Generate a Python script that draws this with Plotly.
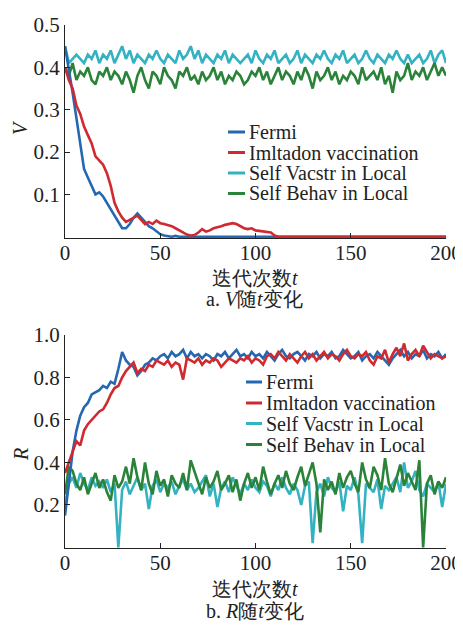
import plotly.graph_objects as go

# ---------------- data ----------------
t_even = list(range(0, 201, 2))

# Panel a: V vs t
V_fermi_t = list(range(0, 61, 2)) + [200]
V_fermi = [0.45, 0.40, 0.34, 0.28, 0.22, 0.16, 0.14, 0.12, 0.10, 0.105,
           0.095, 0.08, 0.065, 0.05, 0.035, 0.02, 0.02, 0.03, 0.045, 0.055,
           0.045, 0.035, 0.025, 0.02, 0.012, 0.006, 0.003, 0.001, 0.0, 0.002,
           0.0, 0.0]

V_imit_t = list(range(0, 113, 2)) + [200]
V_imit = [0.40, 0.37, 0.35, 0.31, 0.29, 0.26, 0.24, 0.22, 0.19, 0.18,
          0.17, 0.15, 0.12, 0.08, 0.06, 0.045, 0.035, 0.04, 0.045, 0.05,
          0.04, 0.03, 0.035, 0.03, 0.038, 0.032, 0.03, 0.028, 0.025, 0.02,
          0.015, 0.01, 0.005, 0.003, 0.004, 0.01, 0.018, 0.012, 0.015, 0.02,
          0.022, 0.025, 0.028, 0.03, 0.032, 0.03, 0.025, 0.02, 0.018, 0.02,
          0.015, 0.014, 0.013, 0.012, 0.01, 0.003, 0.0, 0.0]

V_vacstr = [0.45, 0.41, 0.42, 0.43, 0.42, 0.41, 0.43, 0.42, 0.44, 0.41,
            0.43, 0.42, 0.44, 0.41, 0.43, 0.45, 0.42, 0.44, 0.41, 0.43,
            0.42, 0.41, 0.43, 0.42, 0.44, 0.42, 0.41, 0.43, 0.42, 0.41,
            0.44, 0.42, 0.43, 0.45, 0.42, 0.44, 0.41, 0.43, 0.42, 0.41,
            0.43, 0.42, 0.44, 0.41, 0.43, 0.42, 0.41, 0.42, 0.43, 0.41,
            0.44, 0.42, 0.41, 0.43, 0.42, 0.44, 0.41, 0.42, 0.43, 0.41,
            0.42, 0.44, 0.41, 0.43, 0.42, 0.41, 0.43, 0.42, 0.44, 0.42,
            0.41, 0.43, 0.42, 0.44, 0.41, 0.42, 0.43, 0.41, 0.42, 0.44,
            0.42, 0.41, 0.43, 0.42, 0.41, 0.43, 0.42, 0.44, 0.42, 0.41,
            0.43, 0.41, 0.42, 0.43, 0.41, 0.42, 0.44, 0.41, 0.43, 0.44,
            0.41]

V_behav = [0.40, 0.38, 0.41, 0.37, 0.39, 0.38, 0.40, 0.37, 0.36, 0.39,
           0.38, 0.40, 0.37, 0.39, 0.38, 0.36, 0.39, 0.37, 0.34, 0.38,
           0.40, 0.37, 0.35, 0.39, 0.38, 0.36, 0.40, 0.38, 0.37, 0.35,
           0.39, 0.38, 0.40, 0.37, 0.38, 0.36, 0.39, 0.37, 0.38, 0.40,
           0.37, 0.39, 0.36, 0.38, 0.37, 0.39, 0.38, 0.36, 0.37, 0.39,
           0.38, 0.40, 0.37, 0.39, 0.36, 0.38, 0.40, 0.37, 0.39, 0.38,
           0.36, 0.39, 0.37, 0.40, 0.38, 0.35, 0.39, 0.37, 0.38, 0.40,
           0.37, 0.39, 0.36, 0.38, 0.37, 0.39, 0.38, 0.36, 0.40, 0.37,
           0.38, 0.39, 0.37, 0.40, 0.36, 0.38, 0.34, 0.39, 0.37, 0.38,
           0.41, 0.37, 0.39, 0.38, 0.40, 0.37, 0.39, 0.41, 0.38, 0.40,
           0.38]

# Panel b: R vs t
R_fermi = [0.15, 0.30, 0.45, 0.55, 0.62, 0.66, 0.68, 0.72, 0.73, 0.74,
           0.76, 0.75, 0.78, 0.77, 0.84, 0.92, 0.88, 0.86, 0.85, 0.81,
           0.83, 0.86, 0.87, 0.89, 0.88, 0.90, 0.91, 0.89, 0.92, 0.90,
           0.91, 0.93, 0.89, 0.92, 0.90, 0.91, 0.89, 0.91, 0.90, 0.88,
           0.91, 0.90, 0.92, 0.89, 0.91, 0.93, 0.90, 0.91, 0.89, 0.92,
           0.90, 0.91, 0.89, 0.92, 0.90, 0.88, 0.91, 0.93, 0.90, 0.89,
           0.91, 0.92, 0.90, 0.88, 0.91, 0.90, 0.92, 0.89, 0.91, 0.90,
           0.92, 0.89, 0.90, 0.93, 0.91, 0.89, 0.90, 0.92, 0.88, 0.90,
           0.91, 0.89, 0.92, 0.90, 0.88, 0.86, 0.89, 0.91, 0.93, 0.90,
           0.92, 0.89, 0.91, 0.90, 0.93, 0.89, 0.91, 0.90, 0.92, 0.89,
           0.91]

R_imit = [0.35, 0.40, 0.45, 0.50, 0.48, 0.55, 0.58, 0.60, 0.62, 0.64,
          0.65, 0.68, 0.72, 0.75, 0.76, 0.80, 0.83, 0.85, 0.87, 0.82,
          0.84, 0.83, 0.86, 0.85, 0.88, 0.87, 0.86, 0.88, 0.85, 0.87,
          0.86, 0.79, 0.89, 0.88, 0.87, 0.89, 0.86, 0.88, 0.87, 0.89,
          0.88, 0.85, 0.87, 0.89, 0.88, 0.87, 0.89, 0.88, 0.90, 0.87,
          0.89, 0.88, 0.86, 0.90, 0.91, 0.89, 0.92, 0.90, 0.88, 0.91,
          0.89, 0.87, 0.90, 0.92, 0.89, 0.91, 0.88, 0.90, 0.92, 0.89,
          0.91, 0.90, 0.88, 0.91, 0.93, 0.90, 0.89, 0.91, 0.90, 0.92,
          0.88, 0.86, 0.90, 0.89, 0.93, 0.87, 0.91, 0.94, 0.90, 0.96,
          0.88, 0.91, 0.93, 0.90, 0.95, 0.92, 0.89, 0.91, 0.90, 0.89,
          0.90]

R_vacstr = [0.20, 0.30, 0.33, 0.28, 0.35, 0.30, 0.27, 0.33, 0.29, 0.31,
            0.28, 0.32, 0.26, 0.30, 0.00, 0.27, 0.31, 0.25, 0.29, 0.33,
            0.27, 0.30, 0.18, 0.29, 0.32, 0.26, 0.30, 0.28, 0.31, 0.25,
            0.29, 0.32, 0.27, 0.30, 0.26, 0.28, 0.31, 0.34, 0.24, 0.30,
            0.19, 0.28, 0.31, 0.26, 0.33, 0.29, 0.25, 0.30, 0.27, 0.32,
            0.28, 0.26, 0.31, 0.29, 0.24, 0.30, 0.27, 0.33, 0.28, 0.25,
            0.30, 0.27, 0.20, 0.29, 0.31, 0.02, 0.26, 0.30, 0.24, 0.33,
            0.28, 0.26, 0.31, 0.17, 0.29, 0.27, 0.33, 0.25, 0.02, 0.30,
            0.28, 0.26, 0.32, 0.18, 0.29, 0.27, 0.30, 0.33, 0.26, 0.40,
            0.28, 0.31, 0.36, 0.27, 0.24, 0.30, 0.28, 0.26, 0.31, 0.19,
            0.30]

R_behav = [0.25, 0.38, 0.36, 0.30, 0.27, 0.33, 0.25, 0.30, 0.35, 0.28,
           0.32, 0.26, 0.22, 0.34, 0.28, 0.31, 0.38, 0.30, 0.42, 0.33,
           0.27, 0.40, 0.30, 0.25, 0.36, 0.29, 0.32, 0.24, 0.34, 0.30,
           0.28, 0.35, 0.27, 0.41, 0.36, 0.30, 0.25, 0.33, 0.28, 0.31,
           0.36, 0.27, 0.30, 0.34, 0.26, 0.32, 0.22, 0.30, 0.35, 0.28,
           0.33, 0.27, 0.38, 0.31, 0.25, 0.30, 0.34, 0.28, 0.36, 0.30,
           0.27, 0.33, 0.38, 0.29, 0.35, 0.40, 0.30, 0.07, 0.32, 0.27,
           0.31, 0.25, 0.35, 0.28, 0.33, 0.36, 0.30, 0.26, 0.40, 0.32,
           0.28, 0.38, 0.34, 0.27, 0.42, 0.30, 0.26, 0.33, 0.39, 0.29,
           0.35, 0.31, 0.27, 0.41, 0.00, 0.30, 0.34, 0.25, 0.31, 0.28,
           0.33]

names = ["Fermi", "Imltadon vaccination", "Self Vacstr in Local", "Self Behav in Local"]
colors = ["#2468b2", "#cf2a30", "#35b2c2", "#2b8239"]

x_ticks = [0, 50, 100, 150, 200]
V_ticks = [0.1, 0.2, 0.3, 0.4, 0.5]
R_ticks = [0.2, 0.4, 0.6, 0.8, 1.0]

# ---------------- figure ----------------
FONT = "Liberation Serif"
PAGE_W, PAGE_H = 463, 625
OFF = 8                      # page body margin
W, H = PAGE_W - OFF, PAGE_H - OFF


def px(x):
    """page x pixel -> paper fraction"""
    return (x - OFF) / W


def py(y):
    """page y pixel (from top) -> paper fraction"""
    return 1 - (y - OFF) / H


fig = go.Figure()

top_series = [(V_fermi_t, V_fermi), (V_imit_t, V_imit), (t_even, V_vacstr), (t_even, V_behav)]
bot_series = [(t_even, R_fermi), (t_even, R_imit), (t_even, R_vacstr), (t_even, R_behav)]
for i in [2, 3, 0, 1]:
    xs, ys = top_series[i]
    fig.add_trace(go.Scatter(x=xs, y=ys, mode="lines", name=names[i],
                             line=dict(color=colors[i], width=2.6),
                             xaxis="x", yaxis="y", showlegend=False))
for i in [2, 3, 0, 1]:
    xs, ys = bot_series[i]
    fig.add_trace(go.Scatter(x=xs, y=ys, mode="lines", name=names[i],
                             line=dict(color=colors[i], width=2.6),
                             xaxis="x2", yaxis="y2", showlegend=False))

xdom = [px(65), px(446)]
ydom_top = [py(238), py(25)]
ydom_bot = [py(548), py(335)]

axis_common = dict(showgrid=False, zeroline=False, showline=True, linecolor="#222",
                   linewidth=1.3, ticks="inside", ticklen=5, tickcolor="#222",
                   tickfont=dict(family=FONT, size=21, color="#222"))

fig.update_layout(
    width=W, height=H, margin=dict(l=0, r=0, t=0, b=0, pad=0, autoexpand=False),
    paper_bgcolor="white", plot_bgcolor="white",
    xaxis=dict(domain=xdom, anchor="y", range=[0, 200], tickvals=x_ticks,
               ticklabelstandoff=-4, **axis_common),
    yaxis=dict(domain=ydom_top, anchor="x", range=[-0.003, 0.5], tickvals=V_ticks,
               ticktext=[f"{v:.1f}" for v in V_ticks], **axis_common),
    xaxis2=dict(domain=xdom, anchor="y2", range=[0, 200], tickvals=x_ticks,
                ticklabelstandoff=-4, **axis_common),
    yaxis2=dict(domain=ydom_bot, anchor="x2", range=[-0.003, 1.0], tickvals=R_ticks,
                ticktext=[f"{v:.1f}" for v in R_ticks], **axis_common),
    showlegend=False,
)

ann_font = dict(family=FONT, size=20, color="#222")
annotations = [
    dict(text="迭代次数<i>t</i>", x=px(255), y=py(278)),
    dict(text="a. <i>V</i>随<i>t</i>变化", x=px(255), y=py(299)),
    dict(text="迭代次数<i>t</i>", x=px(255), y=py(589)),
    dict(text="b. <i>R</i>随<i>t</i>变化", x=px(255), y=py(611)),
    dict(text="<i>V</i>", x=px(20), y=py(128), textangle=-90),
    dict(text="<i>R</i>", x=px(21), y=py(455), textangle=-90),
]
for a in annotations:
    fig.add_annotation(xref="paper", yref="paper", showarrow=False,
                       xanchor="center", yanchor="middle", font=ann_font, **a)

# legends (one per panel): line sample + label
legend_specs = [
    dict(x0=228, text_x=247, rows=[132, 152.5, 173, 193.5]),
    dict(x0=246, text_x=264, rows=[382, 403, 423.5, 444.5]),
]
for spec in legend_specs:
    for i, ry in enumerate(spec["rows"]):
        fig.add_shape(type="line", xref="paper", yref="paper",
                      x0=px(spec["x0"]), x1=px(spec["text_x"] - 2),
                      y0=py(ry), y1=py(ry),
                      line=dict(color=colors[i], width=3))
        fig.add_annotation(xref="paper", yref="paper", showarrow=False,
                           x=px(spec["text_x"]), y=py(ry),
                           xanchor="left", yanchor="middle", text=names[i],
                           font=dict(family=FONT, size=20, color="#222"))

fig.write_html("out.html")
